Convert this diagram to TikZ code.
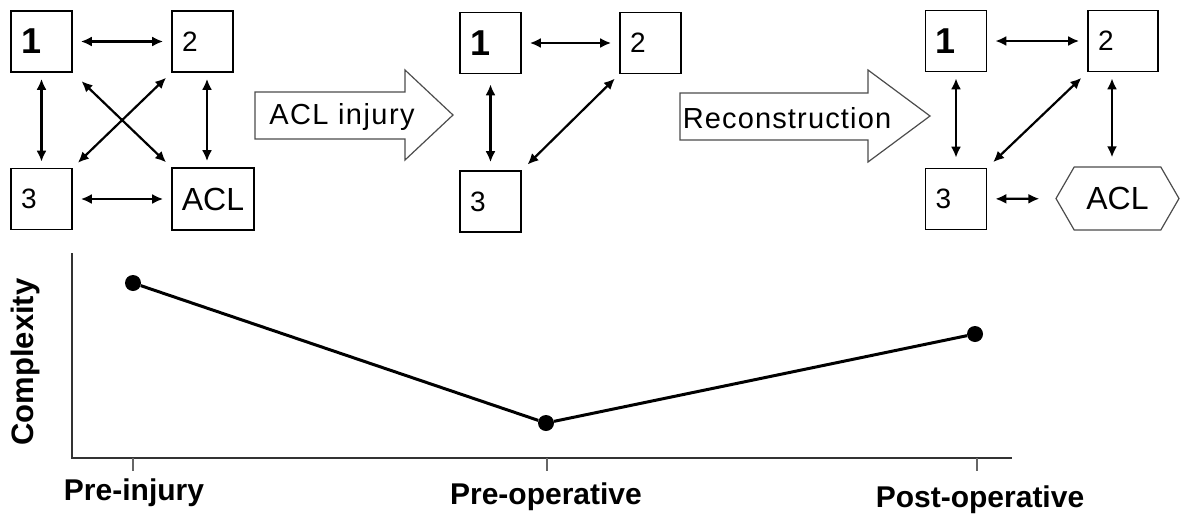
\documentclass[tikz,border=0pt]{standalone}
\usepackage{fontspec}
\setmainfont{Liberation Sans}
\usepackage{tikz}
\usetikzlibrary{positioning, arrows.meta, shapes.symbols}

\begin{document}
\begin{tikzpicture}[x=1pt, y=-1pt]
	% Define styles
	\tikzset{
		box/.style={rectangle, draw, line width=1.6pt, minimum width=61pt, minimum height=61pt, inner ysep=0pt, inner xsep=10pt, text width=41pt, align=left, font=\fontsize{28}{30}\selectfont},
		one/.style={font=\fontsize{36}{38}\selectfont\bfseries},
		aclbox/.style={rectangle, draw, line width=1.6pt, minimum width=82pt, minimum height=62pt, inner sep=0pt, font=\fontsize{32}{34}\selectfont},
		hexa/.style={signal, signal to=west and east, signal pointer angle=120, draw, line width=1.2pt, black!70, text=black, minimum width=123pt, minimum height=63pt, inner sep=0pt, font=\fontsize{32}{34}\selectfont},
		link/.style={draw, line width=2.2pt, {Latex[length=11pt,width=10pt]}-{Latex[length=11pt,width=10pt]}, shorten <=8pt, shorten >=8pt},
		bigarrow/.style={draw, line width=1.2pt, black!70},
		arrowtext/.style={font=\fontsize{29}{31}\selectfont\addfontfeatures{LetterSpace=5}},
		axis/.style={draw, line width=1.8pt, black!80},
		tick/.style={draw, line width=1.2pt, black!60},
		dot/.style={circle, fill=black, minimum size=16pt, inner sep=0pt},
		trend/.style={draw, line width=3pt},
		stage/.style={anchor=base, font=\fontsize{30}{32}\selectfont\bfseries}
	}
	\useasboundingbox (0,0) rectangle (1187,517);

	% Pre-injury network
	\node[box, one] (a1) at (41.5,41.5) {1};
	\node[box] (a2) at (202.5,41.5) {2};
	\node[box] (a3) at (41.5,199) {3};
	\node[aclbox] (aacl) at (213,199) {ACL};

	\draw[link] (a1) -- (a2);
	\draw[link, shorten <=6pt, shorten >=6pt] (a1) -- (a3);
	\draw[link, shorten <=6pt, shorten >=6pt] (a2.south -| 207,0) -- (aacl.north -| 207,0);
	\draw[link] (a3) -- (aacl);
	\draw[link, shorten <=12pt, shorten >=7pt] (a1.south east) -- (aacl.north west);
	\draw[link, shorten <=7pt, shorten >=7pt] (a3.north east) -- (a2.south west);

	% ACL injury
	\draw[bigarrow] (255,92) -- (405,92) -- (405,70) -- (453,115) -- (405,160) -- (405,139) -- (255,139) -- cycle;
	\node[arrowtext] (injury) at (342,117) {ACL injury};

	% Pre-operative network
	\node[box, one] (b1) at (490.5,43) {1};
	\node[box] (b2) at (650.5,43) {2};
	\node[box] (b3) at (490.5,201.5) {3};

	\draw[link] (b1) -- (b2);
	\draw[link, shorten <=10pt, shorten >=8pt] (b1) -- (b3);
	\draw[link, shorten <=8pt, shorten >=6pt] (b3.north east) -- (b2.south west);

	% Reconstruction
	\draw[bigarrow] (680,93) -- (868,93) -- (868,70) -- (930,116) -- (868,162) -- (868,140) -- (680,140) -- cycle;
	\node[arrowtext, font=\fontsize{29}{31}\selectfont\addfontfeatures{LetterSpace=4}] (recon) at (787,118) {Reconstruction};

	% Post-operative network
	\node[box, one] (c1) at (956,41) {1};
	\node[box, minimum width=70pt, text width=50pt] (c2) at (1123,41) {2};
	\node[box] (c3) at (956,199) {3};
	\node[hexa] (cacl) at (1117.5,198.5) {ACL};

	\draw[link] (c1) -- (c2);
	\draw[link, shorten <=6pt, shorten >=10pt] (c1) -- (c3);
	\draw[link, shorten <=6pt, shorten >=9pt] (c2.south -| 1112,0) -- (cacl.north -| 1112,0);
	\draw[link, shorten >=16pt] (c3) -- (cacl);
	\draw[link, shorten <=8pt, shorten >=8pt] (c3.north east) -- (c2.south west);

	% Complexity plot
	\draw[axis] (72,253) -- (72,458) -- (1012,458);
	\foreach \x in {133,547,977}
		\draw[tick] (\x,458) -- (\x,471);
	\node[rotate=90, anchor=base, font=\fontsize{31}{33}\selectfont\bfseries] (ylab) at (34,362) {Complexity};

	\node[dot] (pre) at (133,283) {};
	\node[dot] (preop) at (546,423) {};
	\node[dot] (post) at (975,334) {};
	\draw[trend] (pre) -- (preop) -- (post);

	\node[stage] (l1) at (134,500) {Pre-injury};
	\node[stage] (l2) at (546,504) {Pre-operative};
	\node[stage] (l3) at (980,507) {Post-operative};
\end{tikzpicture}
\end{document}
